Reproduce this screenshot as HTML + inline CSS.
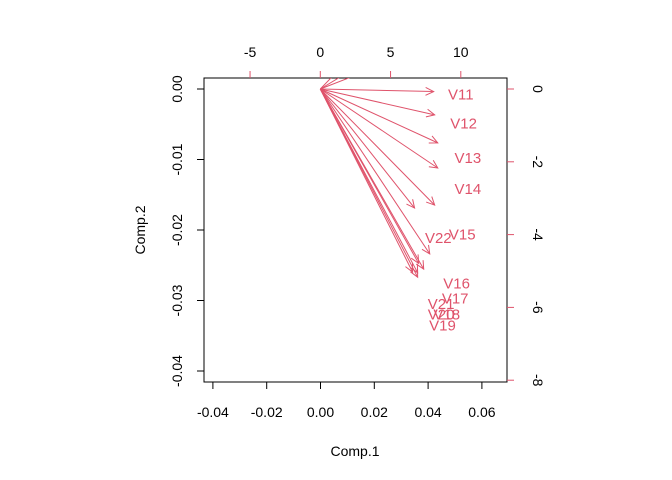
<!DOCTYPE html>
<html><head><meta charset="utf-8"><style>
body{margin:0;background:#fff}
svg{display:block;font-family:"Liberation Sans",Arial,sans-serif}
</style></head><body>
<svg id="chart" width="672" height="480" viewBox="0 0 672 480">
<defs><clipPath id="clip"><rect x="204" y="78" width="303" height="304"/></clipPath></defs>
<rect x="204" y="78" width="303" height="304" fill="none" stroke="#000" stroke-width="1"/>
<g id="axes"></g>
<g id="arrows" clip-path="url(#clip)"></g>
<g id="labels"></g>
<text x="355" y="456" font-size="14" text-anchor="middle">Comp.1</text>
<text x="145" y="230" font-size="14" text-anchor="middle" transform="rotate(-90 145 230)">Comp.2</text>
</svg>
<script>
const varNames=["V11","V12","V13","V14","V15","V22","V16","V17","V18","V19","V20","V21","V1","V2","V3"];
const loadX=[8.07,8.14,8.36,8.36,8.14,6.71,7.79,7.36,7.0,6.93,6.93,6.57,4.0,3.0,2.0];
const loadY=[-0.07,-0.71,-1.48,-2.17,-3.19,-3.27,-4.53,-4.95,-4.79,-5.05,-5.17,-5.03,0.6,0.7,0.8];
const labelX=[10.0,10.2,10.5,10.5,10.1,8.4,9.7,9.6,9.0,8.7,8.6,8.6,null,null,null];
const labelY=[-0.15,-0.95,-1.9,-2.75,-4.0,-4.1,-5.35,-5.75,-6.2,-6.5,-6.2,-5.9,null,null,null];
const xTicksBottom=[-0.04,-0.02,0.00,0.02,0.04,0.06];
const yTicksLeft=[0.00,-0.01,-0.02,-0.03,-0.04];
const xTicksTop=[-5,0,5,10];
const yTicksRight=[0,-2,-4,-6,-8];

const NS="http://www.w3.org/2000/svg";
const sx=v=>320.5+v*2690;
const sy=v=>89-v*7050;
const tx=v=>320.3+v*14.05;
const ty=v=>89-v*36.4;
const red="#DF536B";
function mk(tag,attrs,parent){const e=document.createElementNS(NS,tag);for(const k in attrs)e.setAttribute(k,attrs[k]);parent.appendChild(e);return e;}
const axes=document.getElementById('axes');
xTicksBottom.forEach(v=>{
  const l=mk('line',{x1:sx(v),x2:sx(v),y1:382,y2:389,stroke:'#000'},axes);
  
  
  const t=mk('text',{x:sx(v),y:417,'font-size':14,'text-anchor':'middle'},axes);
  t.textContent=v.toFixed(2);
  
  
});
yTicksLeft.forEach(v=>{
  const l=mk('line',{x1:197,x2:204,y1:sy(v),y2:sy(v),stroke:'#000'},axes);
  
  
  const t=mk('text',{x:182,y:sy(v),'font-size':14,'text-anchor':'middle',transform:`rotate(-90 182 ${sy(v)})`},axes);
  t.textContent=v.toFixed(2);
  
  
});
xTicksTop.forEach(v=>{
  const l=mk('line',{x1:tx(v),x2:tx(v),y1:71,y2:78,stroke:red},axes);
  
  
  const t=mk('text',{x:tx(v),y:57,'font-size':14,'text-anchor':'middle'},axes);
  t.textContent=String(v);
  
  
});
yTicksRight.forEach(v=>{
  const l=mk('line',{x1:507,x2:514,y1:ty(v),y2:ty(v),stroke:red},axes);
  
  
  const t=mk('text',{x:533,y:ty(v),'font-size':14,'text-anchor':'middle',transform:`rotate(90 533 ${ty(v)})`},axes);
  t.textContent=String(v);
  
  
});
const ag=document.getElementById('arrows'), lg=document.getElementById('labels');
const x0=tx(0),y0=ty(0);
varNames.forEach((n,i)=>{
  const x1=tx(loadX[i]),y1=ty(loadY[i]);
  const l=mk('line',{x1:x0,y1:y0,x2:x1,y2:y1,stroke:red,'stroke-width':1},ag);
  
  
  const a=Math.atan2(y1-y0,x1-x0),h=9,s=0.45;
  const p=mk('path',{d:`M${x1-h*Math.cos(a-s)},${y1-h*Math.sin(a-s)} L${x1},${y1} L${x1-h*Math.cos(a+s)},${y1-h*Math.sin(a+s)}`,fill:'none',stroke:red},ag);
  
  
  if(labelX[i]!==null){
    const t=mk('text',{x:tx(labelX[i]),y:ty(labelY[i])+5,'font-size':15,'text-anchor':'middle',fill:red},lg);
    t.textContent=n;
    
    
  }
});
</script>
</body></html>
